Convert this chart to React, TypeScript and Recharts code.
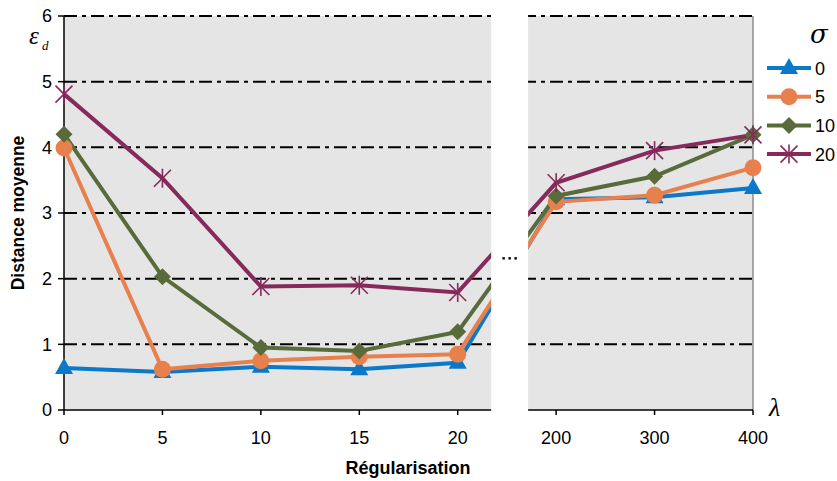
import React from 'react';
import { LineChart, Line, XAxis, YAxis, CartesianGrid, ReferenceArea, ReferenceLine } from 'recharts';

// lambda values on a category-like axis (index 0..7)
const LAMBDAS = ['0', '5', '10', '15', '20', '200', '300', '400'];
const SIGMA_0 = [0.64, 0.58, 0.66, 0.62, 0.72, 3.21, 3.24, 3.38];
const SIGMA_5 = [3.99, 0.62, 0.75, 0.81, 0.85, 3.17, 3.27, 3.69];
const SIGMA_10 = [4.2, 2.03, 0.95, 0.9, 1.19, 3.26, 3.56, 4.19];
const SIGMA_20 = [4.81, 3.53, 1.88, 1.9, 1.79, 3.46, 3.95, 4.19];
const SIGMA_LABELS = ['0', '5', '10', '20'];
const Y_TICKS = [0, 1, 2, 3, 4, 5, 6];

// broken-axis gap, in index units
const GAP_FROM = 4.34;
const GAP_TO = 4.715;

const COLORS = ['#0b78c8', '#e8804e', '#5a6b3b', '#862a5c'];
const KEYS = ['s0', 's5', 's10', 's20'];

const data = LAMBDAS.map((l, i) => ({
  idx: i,
  lambda: l,
  s0: SIGMA_0[i],
  s5: SIGMA_5[i],
  s10: SIGMA_10[i],
  s20: SIGMA_20[i],
}));

const FONT = '"Liberation Sans", Arial, sans-serif';

function Marker({ kind, cx, cy, color }: { kind: number; cx: number; cy: number; color: string }) {
  if (kind === 0)
    return <polygon points={`${cx},${cy - 10} ${cx - 9},${cy + 6} ${cx + 9},${cy + 6}`} fill={color} />;
  if (kind === 1) return <circle cx={cx} cy={cy} r={8.5} fill={color} />;
  if (kind === 2)
    return <polygon points={`${cx},${cy - 8.5} ${cx + 8.5},${cy} ${cx},${cy + 8.5} ${cx - 8.5},${cy}`} fill={color} />;
  const s = 8.5;
  return (
    <g stroke={color} strokeWidth={1.6}>
      <line x1={cx - s} y1={cy - s} x2={cx + s} y2={cy + s} />
      <line x1={cx - s} y1={cy + s} x2={cx + s} y2={cy - s} />
      <line x1={cx} y1={cy - s - 1} x2={cx} y2={cy + s + 1} />
    </g>
  );
}

const GapShape = (props: any) => {
  const { x, y, width, height } = props;
  const my = y + height * 0.615;
  const mx = x + width / 2;
  return (
    <g>
      <rect x={x} y={y - 3} width={width} height={height + 6} fill="#ffffff" />
      {[-6, 0, 6].map((d) => (
        <rect key={d} x={mx + d - 1.2} y={my - 1.2} width={2.4} height={2.4} fill="#000" />
      ))}
    </g>
  );
};

function LegendBox() {
  return (
    <svg width={837} height={481} style={{ position: 'absolute', left: 0, top: 0, pointerEvents: 'none' }}>
      {SIGMA_LABELS.map((lab, i) => {
        const y = 68 + i * 28.7;
        return (
          <g key={lab}>
            <line x1={767} x2={811} y1={y} y2={y} stroke={COLORS[i]} strokeWidth={4} />
            <Marker kind={i} cx={789} cy={y} color={COLORS[i]} />
            <text x={815} y={y + 6.5} fontSize={18} fontFamily={FONT} fill="#000">
              {lab}
            </text>
          </g>
        );
      })}
      <text x={810} y={43} fontSize={26} fontStyle="italic" fontFamily='"DejaVu Serif", "Liberation Serif", serif'>
        σ
      </text>
      <text x={29} y={44} fontSize={25} fontStyle="italic" fontFamily='"Liberation Serif", serif'>
        ε
      </text>
      <text x={42} y={50} fontSize={13} fontStyle="italic" fontFamily='"Liberation Serif", serif'>
        d
      </text>
      <text x={769} y={416} fontSize={26} fontStyle="italic" fontFamily='"Liberation Serif", serif'>
        λ
      </text>
      <text
        x={0}
        y={0}
        transform="translate(24 213) rotate(-90)"
        textAnchor="middle"
        fontSize={17.5}
        fontWeight="bold"
        fontFamily={FONT}
      >
        Distance moyenne
      </text>
      <text x={408} y={474} textAnchor="middle" fontSize={18} fontWeight="bold" fontFamily={FONT}>
        Régularisation
      </text>
    </svg>
  );
}

export default function App() {
  return (
    <div style={{ position: 'absolute', left: 0, top: 0, width: 837, height: 481, background: '#fff' }}>
      <LineChart width={837} height={481} data={data} margin={{ top: 16, right: 84, bottom: 0, left: 0 }}>
        <CartesianGrid
          vertical={false}
          horizontalValues={[1, 2, 3, 4, 5, 6]}
          stroke="#000"
          strokeWidth={2}
          strokeDasharray="13 5 4 5"
          fill="#e5e5e5"
          fillOpacity={1}
        />
        <XAxis
          dataKey="idx"
          type="number"
          domain={[0, 7]}
          ticks={[0, 1, 2, 3, 4, 5, 6, 7]}
          tickFormatter={(v: number) => LAMBDAS[v]}
          height={71}
          tickSize={5}
          tickMargin={16}
          axisLine={{ stroke: '#000', strokeWidth: 1.5 }}
          tickLine={{ stroke: '#000', strokeWidth: 1.5 }}
          tick={{ fill: '#000', fontSize: 18, fontFamily: FONT }}
        />
        <YAxis
          domain={[0, 6]}
          ticks={Y_TICKS}
          width={64}
          tickSize={6}
          tickMargin={6}
          axisLine={{ stroke: '#000', strokeWidth: 1.5 }}
          tickLine={{ stroke: '#000', strokeWidth: 1.5 }}
          tick={{ fill: '#000', fontSize: 18, fontFamily: FONT }}
        />
        <ReferenceLine x={7} stroke="#8c8c8c" strokeWidth={1.5} />
        {KEYS.map((k, i) => (
          <Line
            key={k}
            dataKey={k}
            stroke={COLORS[i]}
            strokeWidth={4}
            isAnimationActive={false}
            dot={(p: any) => <Marker key={`${k}-${p.index}`} kind={i} cx={p.cx} cy={p.cy} color={COLORS[i]} />}
            activeDot={false}
          />
        ))}
        <ReferenceArea x1={GAP_FROM} x2={GAP_TO} y1={0} y2={6} shape={GapShape} zIndex={900} />
      </LineChart>
      <LegendBox />
    </div>
  );
}
